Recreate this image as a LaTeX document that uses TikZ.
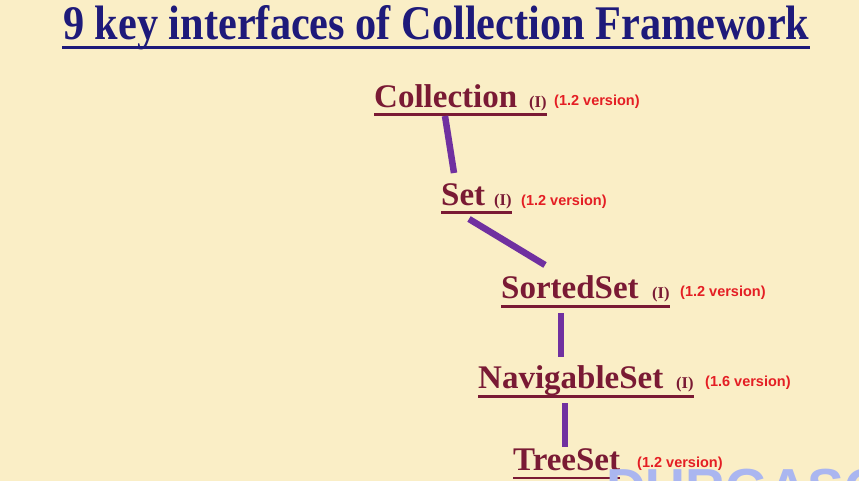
\documentclass[tikz,border=0pt]{standalone}
\usepackage{fontspec}
\setmainfont{Liberation Serif}
\newfontfamily\verfont{Liberation Sans}
\usetikzlibrary{calc}
\definecolor{paper}{RGB}{250,238,198}
\definecolor{titleblue}{RGB}{30,26,122}
\definecolor{ifacered}{RGB}{122,26,52}
\definecolor{verred}{RGB}{228,30,36}
\definecolor{linkpurple}{RGB}{112,48,160}
\definecolor{markblue}{RGB}{170,182,240}
\begin{document}
\begin{tikzpicture}[x=1pt,y=-1pt,
  iface/.style={anchor=base west,inner sep=0pt,text=ifacered,
    font=\bfseries\fontsize{33}{33}\selectfont},
  kind/.style={anchor=base west,inner sep=0pt,text=ifacered,
    font=\bfseries\fontsize{16.5}{16.5}\selectfont},
  ver/.style={anchor=base west,inner sep=0pt,text=verred,
    font=\verfont\bfseries\fontsize{14.5}{14.5}\selectfont},
  uline/.style={draw=ifacered,line width=2.6pt},
  link/.style={draw=linkpurple,line width=6.5pt}]
  % canvas
  \useasboundingbox (0,0) rectangle (859,481);
  \clip (0,0) rectangle (859,481);
  \fill[paper] (0,0) rectangle (859,481);

  % heading
  \node[anchor=base west,inner sep=0pt,text=titleblue] (title) at (63,40)
    {\resizebox{746pt}{34pt}{\bfseries 9 key interfaces of Collection Framework}};
  \draw[draw=titleblue,line width=3pt] (62,47.5) -- (810,47.5);

  % interface names
  \node[iface] (coll) at (374,108) {Collection};
  \node[kind]  (collk) at (529,108) {(I)};
  \node[ver]   (collv) at (554,106) {(1.2 version)};

  \node[iface] (set) at (441,206) {Set};
  \node[kind]  (setk) at (494,206) {(I)};
  \node[ver]   (setv) at (521,205) {(1.2 version)};

  \node[iface] (sorted) at (501,298) {SortedSet};
  \node[kind]  (sortedk) at (652,298) {(I)};
  \node[ver]   (sortedv) at (680,296) {(1.2 version)};

  \node[iface] (nav) at (478,388) {NavigableSet};
  \node[kind]  (navk) at (676,388) {(I)};
  \node[ver]   (navv) at (705,386) {(1.6 version)};

  \node[iface] (tree) at (513,470) {TreeSet};
  \node[ver]   (treev) at (637,467) {(1.2 version)};

  % underlines
  \draw[uline] ([yshift=-6.5pt]coll.base west) -- ([yshift=-6.5pt]collk.base east);
  \draw[uline] ([yshift=-6.5pt]set.base west) -- ([yshift=-6.5pt]setk.base east);
  \draw[uline] ([yshift=-8.5pt]sorted.base west) -- ([yshift=-8.5pt]sortedk.base east);
  \draw[uline] ([yshift=-8.5pt]nav.base west) -- ([yshift=-8.5pt]navk.base east);
  \draw[uline] ([yshift=-8pt]tree.base west) -- ([yshift=-8pt]tree.base east);

  % hierarchy links, from below one name to above the next
  \draw[link] ([xshift=71pt,yshift=-8pt]coll.base west) -- ([xshift=13pt,yshift=33pt]set.base west);
  \draw[link] ([xshift=28pt,yshift=-13pt]set.base west) -- ([xshift=44pt,yshift=33pt]sorted.base west);
  \draw[link] ([xshift=60pt,yshift=-15pt]sorted.base west) -- ([xshift=83pt,yshift=31pt]nav.base west);
  \draw[link] ([xshift=87pt,yshift=-15pt]nav.base west) -- ([xshift=52pt,yshift=23pt]tree.base west);

  % watermark along the bottom edge
  \node[anchor=north west,inner sep=0pt,text=markblue,
    font=\verfont\bfseries\fontsize{55}{55}\selectfont] (mark) at (606,469) {DURGASOFT};
\end{tikzpicture}
\end{document}
